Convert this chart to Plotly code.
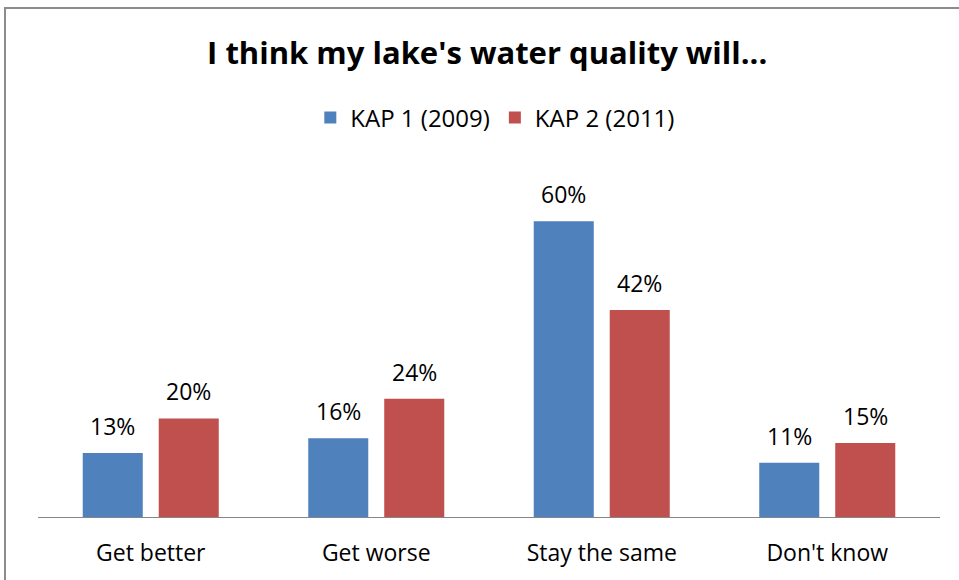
import plotly.graph_objects as go

categories = ["Get better", "Get worse", "Stay the same", "Don't know"]
kap1_2009 = [13, 16, 60, 11]
kap2_2011 = [20, 24, 42, 15]
series_names = ["KAP 1 (2009)", "KAP 2 (2011)"]
title_text = "I think my lake's water quality will..."

FONT = "'Open Sans', sans-serif"
colors = ["#4F81BD", "#C0504D"]

fig = go.Figure()
for name, vals, col in zip(series_names, [kap1_2009, kap2_2011], colors):
    fig.add_trace(go.Bar(
        x=categories, y=vals, name=name,
        marker=dict(color=col, line=dict(width=0)),
    ))

# value labels placed above each bar (offset to each bar of the group)
for vals, dx in zip([kap1_2009, kap2_2011], [-38, 38]):
    for cat, v in zip(categories, vals):
        fig.add_annotation(x=cat, y=v, text=f"{v}%", showarrow=False,
                           xshift=dx, yshift=27, yanchor="middle",
                           font=dict(size=23, family=FONT, color="#000000"))

plot_left, plot_right, plot_bottom = 38, 940, 517
ymax = 70
plot_top = 172

fig.update_layout(
    width=959, height=580,
    margin=dict(l=plot_left, r=959 - plot_right, t=plot_top, b=580 - plot_bottom, autoexpand=False),
    paper_bgcolor="white", plot_bgcolor="white",
    barmode="group", bargap=0.326, bargroupgap=0.21,
    font=dict(family=FONT, color="#000000", size=23),
    title=dict(text="<b>" + title_text + "</b>", x=0.508, xanchor="center",
               y=1 - 53 / 580, yanchor="middle", yref="container",
               font=dict(size=31, family=FONT, color="#000000")),
    legend=dict(orientation="h", x=0.507, xanchor="center",
                y=(plot_bottom - 118) / (plot_bottom - plot_top), yanchor="middle",
                font=dict(size=24, family=FONT), itemwidth=30, traceorder="normal"),
    showlegend=True,
    xaxis=dict(showline=True, linecolor="#868686", linewidth=1, ticks="",
               tickfont=dict(size=23, family=FONT), showgrid=False,
               ticklabelstandoff=15),
    yaxis=dict(range=[0, ymax], visible=False, showgrid=False, zeroline=False),
)

# outer chart border (gray frame, extending off the right/bottom)
h = plot_bottom - plot_top
w = plot_right - plot_left
fig.add_shape(type="rect", xref="paper", yref="paper",
              x0=(5 - plot_left) / w, x1=(975 - plot_left) / w,
              y0=(plot_bottom - 600) / h, y1=(plot_bottom - 8) / h,
              line=dict(color="#8C8C8C", width=2), fillcolor="rgba(0,0,0,0)", layer="below")

fig.write_html("out.html", config={"displayModeBar": False},
               post_script="document.body.style.margin='0';document.body.style.padding='0';")
